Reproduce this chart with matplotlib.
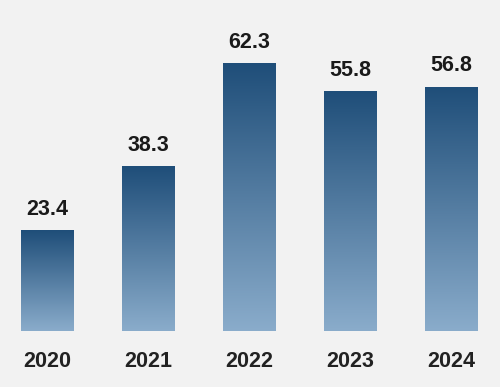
import matplotlib.pyplot as plt
import numpy as np
from matplotlib.colors import LinearSegmentedColormap

years = ['2020', '2021', '2022', '2023', '2024']
values = [23.4, 38.3, 62.3, 55.8, 56.8]

bg = '#f2f2f2'
cmap = LinearSegmentedColormap.from_list('bars', ['#8aaccb', '#1f4e79'])

fig = plt.figure(figsize=(5, 3.87), dpi=100, facecolor=bg)
ax = fig.add_axes([0, 56 / 387, 1, 331 / 387])
ax.set_facecolor(bg)

x = np.arange(len(years))
bars = ax.bar(x, values, width=0.515, color='none', edgecolor='none')

grad = np.linspace(0, 1, 256).reshape(-1, 1)
for b in bars:
    x0, y0 = b.get_x(), b.get_y()
    w, h = b.get_width(), b.get_height()
    im = ax.imshow(grad, cmap=cmap, origin='lower', aspect='auto',
                   extent=[x0, x0 + w, y0, y0 + h], zorder=2)
    im.set_clip_path(b)

ax.set_xlim(-47 / 101, (500 - 47) / 101)
ax.set_ylim(0, 331 / 4.3)

for xi, v in zip(x, values):
    ax.annotate(f'{v:.1f}', (xi, v), xytext=(0, 11), textcoords='offset points',
                ha='center', va='baseline', fontsize=15.5, fontweight='bold',
                family='Liberation Sans', color='#1a1a1a')
    ax.annotate(years[xi], (xi, 0), xytext=(0, -26), textcoords='offset points',
                ha='center', va='baseline', fontsize=15.5, fontweight='bold',
                family='Liberation Sans', color='#222222', annotation_clip=False)

ax.axis('off')
fig.savefig('out.png', dpi=100, facecolor=bg)
